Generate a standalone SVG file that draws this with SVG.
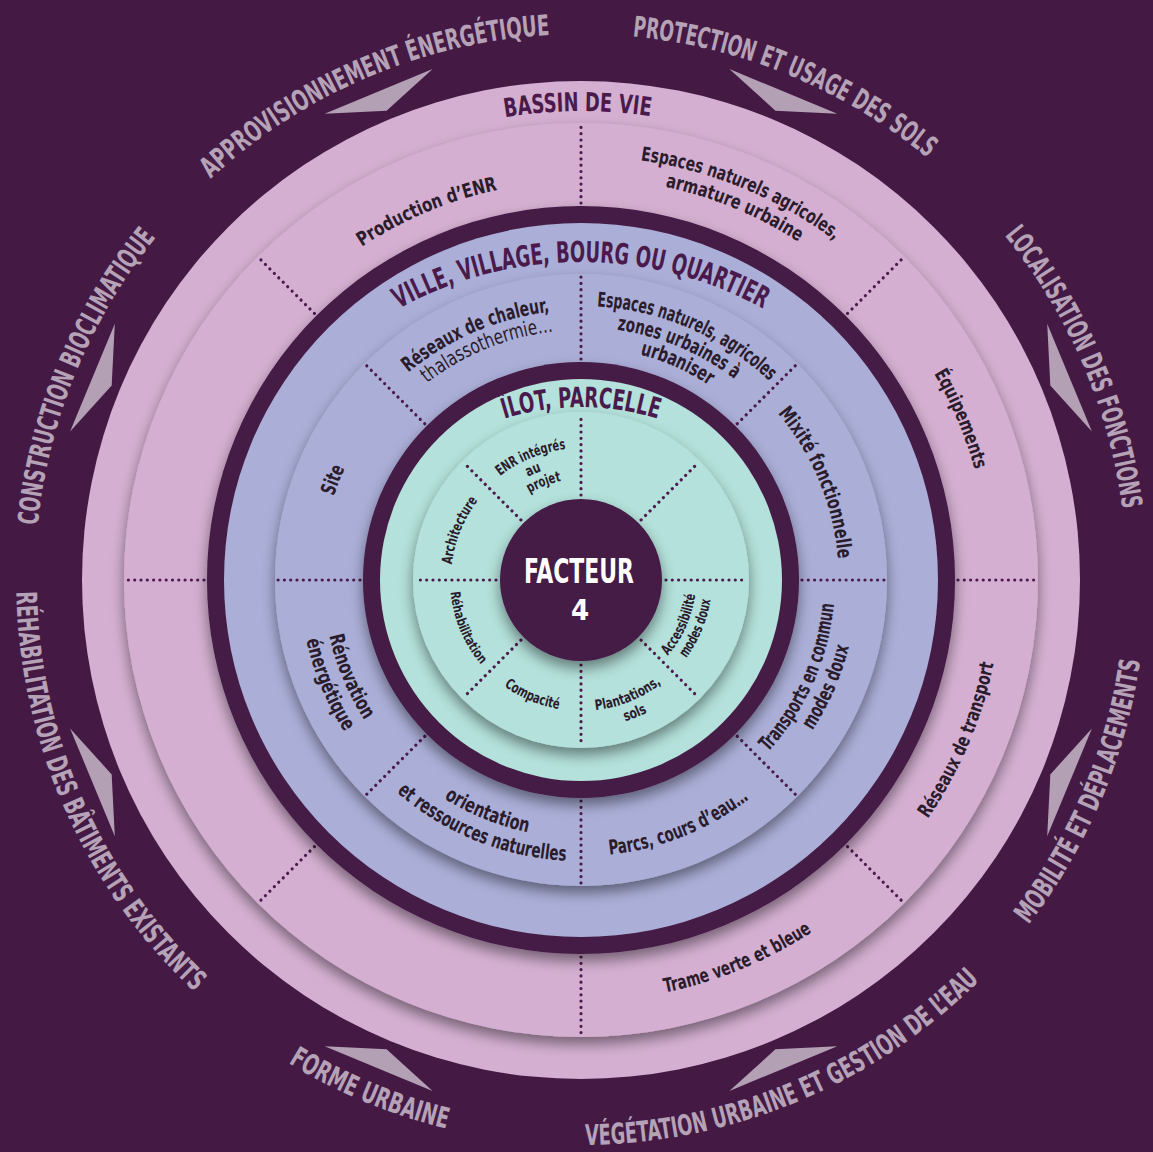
<svg xmlns="http://www.w3.org/2000/svg" width="1153" height="1152" viewBox="0 0 1153 1152">
<defs>
<style>
.f{font-family:'Liberation Sans Narrow','DejaVu Sans Condensed','Liberation Sans',Arial,sans-serif;text-anchor:middle;}
.outer{font-size:28.5px;font-weight:700;fill:#b6a2b7;}
.title{font-size:29px;font-weight:700;fill:#4a1a4c;}
.lp{font-size:19.5px;font-weight:600;fill:#2a1c2c;}
.ll{font-size:20.5px;font-weight:600;fill:#2a1c2c;}
.lt{font-size:14.5px;font-weight:600;fill:#2a1c2c;}
.light{font-weight:400;}
.dot{stroke:#4b1a4d;stroke-width:3.2;stroke-linecap:round;stroke-dasharray:0 6.3;fill:none;}
.arrow{fill:#b3a0b4;}
.pink{fill:#d4afd1;}
.lav{fill:#abafd8;}
.teal{fill:#b4e1db;}
.dark{fill:#441a45;}
</style>
<filter id="sh" x="-20%" y="-20%" width="140%" height="145%">
<feDropShadow dx="0" dy="7" stdDeviation="7" flood-color="#000" flood-opacity="0.45"/>
</filter>
<polygon id="arr" points="528.8,-58.4 508,0 528.8,58.4"/>
<path id="t546" d="M -513.1,-186.7 A 546 546 0 0 1 513.1,-186.7"/>
<path id="t469" d="M -440.7,-160.4 A 469 469 0 0 1 440.7,-160.4"/>
<path id="tV" d="M -355.2,-129.3 A 378 378 0 0 1 355.2,-129.3"/>
<path id="tI" d="M -244.3,-88.9 A 260 260 0 0 1 244.3,-88.9"/>
<path id="t399" d="M -374.9,-136.5 A 399 399 0 0 1 374.9,-136.5"/>
<path id="t424" d="M -398.4,-145 A 424 424 0 0 1 398.4,-145"/>
<path id="t402" d="M -377.8,-137.5 A 402 402 0 0 1 377.8,-137.5"/>
<path id="t409" d="M -384.3,-139.9 A 409 409 0 0 1 384.3,-139.9"/>
<path id="t270" d="M -253.7,-92.3 A 270 270 0 0 1 253.7,-92.3"/>
<path id="t250" d="M -234.9,-85.5 A 250 250 0 0 1 234.9,-85.5"/>
<path id="t274" d="M -257.5,-93.7 A 274 274 0 0 1 257.5,-93.7"/>
<path id="t253" d="M -237.7,-86.5 A 253 253 0 0 1 237.7,-86.5"/>
<path id="t233" d="M -219,-79.7 A 233 233 0 0 1 219,-79.7"/>
<path id="t258" d="M -242.4,-88.2 A 258 258 0 0 1 242.4,-88.2"/>
<path id="t261" d="M -245.3,-89.3 A 261 261 0 0 1 245.3,-89.3"/>
<path id="t132" d="M -124,-45.1 A 132 132 0 0 1 124,-45.1"/>
<path id="t116" d="M -109,-39.7 A 116 116 0 0 1 109,-39.7"/>
<path id="t101" d="M -94.9,-34.5 A 101 101 0 0 1 94.9,-34.5"/>
<path id="t130" d="M -122.2,-44.5 A 130 130 0 0 1 122.2,-44.5"/>
<path id="b565" d="M -530.9,193.2 A 565 565 0 0 0 530.9,193.2"/>
<path id="b421" d="M -395.6,144 A 421 421 0 0 0 395.6,144"/>
<path id="b254" d="M -238.7,86.9 A 254 254 0 0 0 238.7,86.9"/>
<path id="b276" d="M -259.4,94.4 A 276 276 0 0 0 259.4,94.4"/>
<path id="b258" d="M -242.4,88.2 A 258 258 0 0 0 242.4,88.2"/>
<path id="b281" d="M -264.1,96.1 A 281 281 0 0 0 264.1,96.1"/>
<path id="b131" d="M -123.1,44.8 A 131 131 0 0 0 123.1,44.8"/>
<path id="b148" d="M -139.1,50.6 A 148 148 0 0 0 139.1,50.6"/>
<path id="b115" d="M -108.1,39.3 A 115 115 0 0 0 108.1,39.3"/>
</defs>

<rect width="1153" height="1152" fill="#441a45"/>

<g id="outer-themes" class="f outer">
<text transform="translate(581,580) rotate(-23)"><textPath href="#t546" startOffset="50%" textLength="376" lengthAdjust="spacingAndGlyphs">APPROVISIONNEMENT ÉNERGÉTIQUE</textPath></text>
<text transform="translate(581,580) rotate(22.4)"><textPath href="#t546" startOffset="50%" textLength="324" lengthAdjust="spacingAndGlyphs">PROTECTION ET USAGE DES SOLS</textPath></text>
<text transform="translate(581,580) rotate(66.7)"><textPath href="#t546" startOffset="50%" textLength="302" lengthAdjust="spacingAndGlyphs">LOCALISATION DES FONCTIONS</textPath></text>
<text transform="translate(581,580) rotate(-67.7)"><textPath href="#t546" startOffset="50%" textLength="316" lengthAdjust="spacingAndGlyphs">CONSTRUCTION BIOCLIMATIQUE</textPath></text>
<text transform="translate(581,580) rotate(-67.1)"><textPath href="#b565" startOffset="50%" textLength="290" lengthAdjust="spacingAndGlyphs">MOBILITÉ ET DÉPLACEMENTS</textPath></text>
<text transform="translate(581,580) rotate(-22.65)"><textPath href="#b565" startOffset="50%" textLength="438" lengthAdjust="spacingAndGlyphs">VÉGÉTATION URBAINE ET GESTION DE L’EAU</textPath></text>
<text transform="translate(581,580) rotate(22.5)"><textPath href="#b565" startOffset="50%" textLength="172" lengthAdjust="spacingAndGlyphs">FORME URBAINE</textPath></text>
<text transform="translate(581,580) rotate(66)"><textPath href="#b565" startOffset="50%" textLength="450" lengthAdjust="spacingAndGlyphs">RÉHABILITATION DES BÂTIMENTS EXISTANTS</textPath></text>
</g>

<g id="arrows" class="arrow" transform="translate(581,580)">
<use href="#arr" transform="rotate(-112.5)"/>
<use href="#arr" transform="rotate(-67.5)"/>
<use href="#arr" transform="rotate(-22.5)"/>
<use href="#arr" transform="rotate(22.5)"/>
<use href="#arr" transform="rotate(67.5)"/>
<use href="#arr" transform="rotate(112.5)"/>
<use href="#arr" transform="rotate(157.5)"/>
<use href="#arr" transform="rotate(-157.5)"/>
</g>

<g id="ring-bassin">
<circle class="pink" cx="581" cy="580" r="499"/>
<circle class="pink" cx="581" cy="580" r="457" filter="url(#sh)"/>
<g class="dot" transform="translate(581,580)">
<line x1="377" y1="0" x2="455" y2="0"/>
<line x1="377" y1="0" x2="455" y2="0" transform="rotate(45)"/>
<line x1="377" y1="0" x2="455" y2="0" transform="rotate(90)"/>
<line x1="377" y1="0" x2="455" y2="0" transform="rotate(135)"/>
<line x1="377" y1="0" x2="455" y2="0" transform="rotate(180)"/>
<line x1="377" y1="0" x2="455" y2="0" transform="rotate(225)"/>
<line x1="377" y1="0" x2="455" y2="0" transform="rotate(270)"/>
<line x1="377" y1="0" x2="455" y2="0" transform="rotate(315)"/>
</g>
<text class="f title" style="font-size:26px" transform="translate(581,580) rotate(-0.4)"><textPath href="#t469" startOffset="50%" textLength="146" lengthAdjust="spacingAndGlyphs">BASSIN DE VIE</textPath></text>
<g class="f lp">
<text transform="translate(581,580) rotate(-22.7)"><textPath href="#t399" startOffset="50%" textLength="148" lengthAdjust="spacingAndGlyphs">Production d’ENR</textPath></text>
<text transform="translate(581,580) rotate(22.4)"><textPath href="#t424" startOffset="50%" textLength="212" lengthAdjust="spacingAndGlyphs">Espaces naturels agricoles,</textPath></text>
<text transform="translate(581,580) rotate(22.4)"><textPath href="#t402" startOffset="50%" textLength="145" lengthAdjust="spacingAndGlyphs">armature urbaine</textPath></text>
<text transform="translate(581,580) rotate(67)"><textPath href="#t409" startOffset="50%" textLength="105" lengthAdjust="spacingAndGlyphs">Équipements</textPath></text>
<text transform="translate(581,580) rotate(-67)"><textPath href="#b421" startOffset="50%" textLength="170" lengthAdjust="spacingAndGlyphs">Réseaux de transport</textPath></text>
<text transform="translate(581,580) rotate(-22.4)"><textPath href="#b421" startOffset="50%" textLength="160" lengthAdjust="spacingAndGlyphs">Trame verte et bleue</textPath></text>
</g>
</g>

<g id="ring-ville">
<circle class="dark" cx="581" cy="580" r="374" filter="url(#sh)"/>
<circle class="lav" cx="581" cy="580" r="357"/>
<circle class="lav" cx="581" cy="580" r="306" filter="url(#sh)"/>
<g class="dot" transform="translate(581,580)">
<line x1="221" y1="0" x2="305" y2="0"/>
<line x1="221" y1="0" x2="305" y2="0" transform="rotate(45)"/>
<line x1="221" y1="0" x2="305" y2="0" transform="rotate(90)"/>
<line x1="221" y1="0" x2="305" y2="0" transform="rotate(135)"/>
<line x1="221" y1="0" x2="305" y2="0" transform="rotate(180)"/>
<line x1="221" y1="0" x2="305" y2="0" transform="rotate(225)"/>
<line x1="221" y1="0" x2="305" y2="0" transform="rotate(270)"/>
<line x1="221" y1="0" x2="305" y2="0" transform="rotate(315)"/>
</g>
<text class="f title" transform="translate(581,640)"><textPath href="#tV" startOffset="50%" textLength="380" lengthAdjust="spacingAndGlyphs">VILLE, VILLAGE, BOURG OU QUARTIER</textPath></text>
<g class="f ll">
<text transform="translate(581,580) rotate(-23.2)"><textPath href="#t270" startOffset="50%" textLength="156" lengthAdjust="spacingAndGlyphs">Réseaux de chaleur,</textPath></text>
<text class="light" transform="translate(581,580) rotate(-22.2)"><textPath href="#t250" startOffset="50%" textLength="138" lengthAdjust="spacingAndGlyphs">thalassothermie…</textPath></text>
<text transform="translate(581,580) rotate(23.4)"><textPath href="#t274" startOffset="50%" textLength="192" lengthAdjust="spacingAndGlyphs">Espaces naturels, agricoles</textPath></text>
<text transform="translate(581,580) rotate(22.8)"><textPath href="#t253" startOffset="50%" textLength="129" lengthAdjust="spacingAndGlyphs">zones urbaines à</textPath></text>
<text transform="translate(581,580) rotate(24)"><textPath href="#t233" startOffset="50%" textLength="76" lengthAdjust="spacingAndGlyphs">urbaniser</textPath></text>
<text transform="translate(581,580) rotate(67.5)"><textPath href="#t258" startOffset="50%" textLength="160" lengthAdjust="spacingAndGlyphs">Mixité fonctionnelle</textPath></text>
<text transform="translate(581,580) rotate(-66)"><textPath href="#b254" startOffset="50%" textLength="165" lengthAdjust="spacingAndGlyphs">Transports en commun</textPath></text>
<text transform="translate(581,580) rotate(-66.5)"><textPath href="#b276" startOffset="50%" textLength="92" lengthAdjust="spacingAndGlyphs">modes doux</textPath></text>
<text transform="translate(581,580) rotate(-21.7)"><textPath href="#b276" startOffset="50%" textLength="152" lengthAdjust="spacingAndGlyphs">Parcs, cours d’eau…</textPath></text>
<text transform="translate(581,580) rotate(22)"><textPath href="#b258" startOffset="50%" textLength="91" lengthAdjust="spacingAndGlyphs">orientation</textPath></text>
<text transform="translate(581,580) rotate(22)"><textPath href="#b281" startOffset="50%" textLength="186" lengthAdjust="spacingAndGlyphs">et ressources naturelles</textPath></text>
<text transform="translate(581,580) rotate(67.3)"><textPath href="#b258" startOffset="50%" textLength="92" lengthAdjust="spacingAndGlyphs">Rénovation</textPath></text>
<text transform="translate(581,580) rotate(67.5)"><textPath href="#b281" startOffset="50%" textLength="100" lengthAdjust="spacingAndGlyphs">énergétique</textPath></text>
<text transform="translate(581,580) rotate(-68)"><textPath href="#t261" startOffset="50%" textLength="30" lengthAdjust="spacingAndGlyphs">Site</textPath></text>
</g>
</g>

<g id="ring-ilot">
<circle class="dark" cx="581" cy="580" r="218" filter="url(#sh)"/>
<circle class="teal" cx="581" cy="580" r="201"/>
<circle class="teal" cx="581" cy="580" r="168" filter="url(#sh)"/>
<g class="dot" transform="translate(581,580)">
<line x1="85" y1="0" x2="166" y2="0"/>
<line x1="85" y1="0" x2="166" y2="0" transform="rotate(45)"/>
<line x1="85" y1="0" x2="166" y2="0" transform="rotate(90)"/>
<line x1="85" y1="0" x2="166" y2="0" transform="rotate(135)"/>
<line x1="85" y1="0" x2="166" y2="0" transform="rotate(180)"/>
<line x1="85" y1="0" x2="166" y2="0" transform="rotate(225)"/>
<line x1="85" y1="0" x2="166" y2="0" transform="rotate(270)"/>
<line x1="85" y1="0" x2="166" y2="0" transform="rotate(315)"/>
</g>
<text class="f title" style="font-size:28px" transform="translate(581,667)"><textPath href="#tI" startOffset="50%" textLength="156" lengthAdjust="spacingAndGlyphs">ÎLOT, PARCELLE</textPath></text>
<g class="f lt">
<text transform="translate(581,580) rotate(-22.3)"><textPath href="#t132" startOffset="50%" textLength="72" lengthAdjust="spacingAndGlyphs">ENR intégrés</textPath></text>
<text transform="translate(581,580) rotate(-23.5)"><textPath href="#t116" startOffset="50%" textLength="15" lengthAdjust="spacingAndGlyphs">au</textPath></text>
<text transform="translate(581,580) rotate(-21)"><textPath href="#t101" startOffset="50%" textLength="34" lengthAdjust="spacingAndGlyphs">projet</textPath></text>
<text transform="translate(581,580) rotate(-67.8)"><textPath href="#t130" startOffset="50%" textLength="70" lengthAdjust="spacingAndGlyphs">Architecture</textPath></text>
<text style="font-size:13.5px" transform="translate(581,580) rotate(67.3)"><textPath href="#b131" startOffset="50%" textLength="80" lengthAdjust="spacingAndGlyphs">Réhabilitation</textPath></text>
<text transform="translate(581,580) rotate(22.9)"><textPath href="#b131" startOffset="50%" textLength="60" lengthAdjust="spacingAndGlyphs">Compacité</textPath></text>
<text transform="translate(581,580) rotate(-22.1)"><textPath href="#b131" startOffset="50%" textLength="72" lengthAdjust="spacingAndGlyphs">Plantations,</textPath></text>
<text transform="translate(581,580) rotate(-22)"><textPath href="#b148" startOffset="50%" textLength="24" lengthAdjust="spacingAndGlyphs">sols</textPath></text>
<text transform="translate(581,580) rotate(-65.8)"><textPath href="#b115" startOffset="50%" textLength="68" lengthAdjust="spacingAndGlyphs">Accessibilité</textPath></text>
<text transform="translate(581,580) rotate(-67.3)"><textPath href="#b131" startOffset="50%" textLength="64" lengthAdjust="spacingAndGlyphs">modes doux</textPath></text>
</g>
</g>

<g id="center">
<circle class="dark" cx="581" cy="580" r="81" filter="url(#sh)"/>
<text class="f" style="font-size:34px;font-weight:700;fill:#ffffff"><tspan x="579" y="583" textLength="110" lengthAdjust="spacingAndGlyphs">FACTEUR</tspan><tspan x="580" y="620" style="font-size:29px">4</tspan></text>
</g>
</svg>
